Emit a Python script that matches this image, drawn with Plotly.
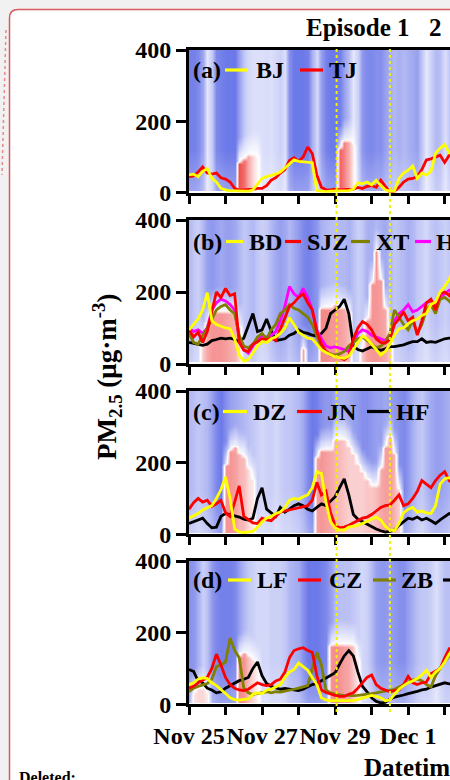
import numpy as np
import plotly.graph_objects as go
from datetime import datetime, timedelta

# ---------------- time base (3-hourly samples) ----------------
START = datetime(2015, 11, 25)
HOURS = list(range(0, 175, 3))
TIMES = [START + timedelta(hours=h) for h in HOURS]
HEIGHTS = list(range(10, 401, 10))
X_END = START + timedelta(hours=171.5)

DAY_TICKS = [START + timedelta(days=d) for d in range(8)]
DAY_TEXT = ["Nov 25", "", "Nov 27", "", "Nov 29", "", "Dec 1", ""]
EPISODE_BOUNDS = [START + timedelta(hours=97), START + timedelta(hours=132)]

# ---------------- PM2.5 series (ug/m3) ----------------
# panel (a)
BJ = [50, 52, 45, 60, 68, 40, 30, 12, 8, 5,
      5, 4, 5, 4, 8, 25, 40, 45, 48, 52,
      58, 70, 82, 92, 88, 86, 85, 84, 6, 4,
      3, 4, 5, 4, 5, 6, 10, 28, 25, 30,
      22, 35, 20, 8, 4, 5, 40, 55, 63, 75,
      40, 55, 50, 60, 110, 125, 135, 112, 120]
TJ = [45, 47, 58, 72, 55, 52, 55, 42, 38, 30,
      12, 7, 8, 8, 10, 12, 12, 20, 35, 42,
      55, 65, 90, 98, 88, 100, 128, 110, 50, 15,
      8, 8, 10, 8, 8, 10, 10, 15, 12, 18,
      20, 15, 35, 18, 2, 4, 15, 30, 38, 40,
      45, 65, 92, 95, 100, 105, 85, 105, 110]
# panel (b)
BD = [95, 110, 125, 150, 198, 120, 110, 105, 100, 98,
      70, 25, 8, 12, 30, 50, 62, 60, 70, 75,
      85, 100, 128, 110, 88, 80, 72, 70, 55, 40,
      32, 25, 20, 18, 16, 22, 40, 60, 78, 70,
      55, 40, 25, 35, 55, 80, 98, 100, 112, 120,
      125, 135, 140, 165, 172, 200, 215, 235, 270]
SJZ = [95, 75, 88, 60, 90, 150, 200, 185, 210, 190,
       195, 60, 38, 35, 55, 62, 70, 68, 72, 65,
       95, 125, 160, 170, 185, 195, 170, 150, 90, 55,
       35, 25, 22, 18, 12, 22, 70, 100, 118, 110,
       95, 70, 60, 58, 68, 110, 125, 145, 120, 130,
       80, 120, 170, 180, 150, 195, 200, 190, 210]
XT = [85, 60, 55, 80, 100, 125, 150, 160, 165, 150,
      140, 80, 50, 45, 55, 75, 85, 70, 95, 110,
      140, 150, 165, 155, 150, 140, 130, 110, 80, 45,
      35, 28, 25, 28, 35, 50, 60, 70, 75, 65,
      55, 45, 50, 60, 85, 150, 130, 110, 95, 120,
      85, 110, 150, 165, 140, 180, 185, 175, 160]
HS = [100, 90, 95, 85, 100, 150, 170, 180, 175, 165,
      150, 70, 40, 30, 50, 70, 78, 75, 80, 90,
      120, 160, 215, 195, 185, 210, 185, 150, 95, 70,
      50, 45, 48, 45, 40, 35, 60, 85, 95, 90,
      80, 75, 70, 65, 80, 120, 140, 150, 165, 145,
      150, 160, 170, 175, 165, 185, 195, 205, 210]
HD = [60, 58, 55, 52, 55, 65, 68, 72, 70, 72,
      68, 62, 72, 105, 140, 90, 95, 125, 92, 65,
      68, 70, 80, 85, 95, 88, 85, 80, 78, 85,
      99, 140, 150, 160, 180, 140, 50, 40, 36, 42,
      48, 42, 38, 42, 48, 48, 50, 53, 58, 62,
      62, 70, 60, 62, 60, 65, 70, 72, 72]
# panel (c)
DZ = [45, 52, 58, 68, 75, 80, 100, 125, 160, 100,
      15, 7, 5, 6, 8, 20, 35, 45, 50, 58,
      62, 75, 95, 100, 98, 105, 110, 130, 175, 170,
      90, 35, 18, 12, 12, 20, 22, 25, 30, 35,
      42, 48, 40, 22, 12, 10, 30, 60, 70, 75,
      62, 65, 60, 58, 80, 140, 155, 158, 150]
JN = [70, 88, 100, 90, 95, 78, 85, 95, 60, 50,
      90, 135, 50, 40, 32, 30, 45, 40, 38, 50,
      62, 65, 68, 70, 75, 78, 80, 95, 145, 110,
      120, 60, 25, 18, 20, 25, 32, 38, 45, 48,
      55, 65, 75, 80, 82, 95, 110, 80, 85, 100,
      120, 150, 140, 130, 150, 165, 175, 150, 140]
HF = [30, 35, 38, 45, 30, 18, 20, 50, 58, 55,
      52, 48, 42, 40, 45, 100, 130, 70, 60, 50,
      75, 62, 70, 80, 85, 80, 70, 65, 75, 85,
      80, 92, 105, 130, 155, 110, 55, 42, 35, 28,
      20, 15, 10, 6, 8, 12, 25, 35, 45, 42,
      48, 40, 45, 38, 30, 40, 50, 58, 55]
# panel (d)
LF = [55, 60, 70, 74, 72, 60, 52, 42, 30, 18,
      13, 12, 13, 15, 28, 32, 30, 40, 42, 48,
      55, 75, 90, 97, 115, 105, 95, 75, 55, 18,
      12, 10, 10, 10, 11, 12, 10, 14, 18, 22,
      25, 22, 18, 10, 12, 28, 42, 52, 60, 65,
      72, 82, 95, 75, 90, 100, 118, 140, 155]
CZ = [45, 50, 60, 68, 75, 100, 140, 110, 75, 55,
      45, 40, 38, 42, 52, 60, 55, 52, 55, 65,
      70, 90, 130, 150, 155, 158, 150, 145, 80, 40,
      33, 28, 25, 22, 22, 28, 32, 45, 60, 75,
      82, 55, 45, 40, 35, 38, 40, 55, 78, 60,
      55, 60, 62, 85, 92, 100, 130, 155, 150]
ZB = [35, 45, 50, 55, 58, 70, 105, 110, 118, 185,
      150, 130, 45, 32, 28, 30, 32, 35, 32, 35,
      34, 36, 40, 42, 45, 48, 52, 100, 145, 110,
      40, 32, 28, 26, 25, 24, 24, 25, 26, 28,
      30, 32, 34, 36, 38, 42, 48, 55, 62, 68,
      70, 66, 55, 48, 80, 100, 120, 135, 150]
BZ = [97, 92, 65, 60, 45, 40, 32, 35, 45, 52,
      60, 66, 70, 75, 100, 118, 80, 58, 50, 45,
      42, 44, 42, 40, 38, 42, 48, 55, 58, 65,
      72, 80, 88, 112, 135, 150, 135, 90, 50, 35,
      18, 8, 4, 5, 15, 20, 22, 26, 30, 32,
      36, 40, 42, 48, 52, 58, 60, 57, 58]

# ---------------- background field per panel ----------------
# tone: strength of the blue (stable) shading; red_top / red_amp: height and
# strength of the red (unstable) layer near the ground
TONE_A = [0.8, 0.8, 0.75, 0.55, 0.15, 0.35, 0.75, 0.8, 0.85, 0.85,
          0.85, 0.6, 0.35, 0.25, 0.2, 0.2, 0.2, 0.22, 0.2, 0.25,
          0.3, 0.2, 0.7, 0.85, 0.85, 0.85, 0.8, 0.5, 0.25, 0.6,
          0.8, 0.85, 0.85, 0.8, 0.6, 0.4, 0.15, 0.3, 0.65, 0.75,
          0.75, 0.7, 0.7, 0.6, 0.5, 0.45, 0.5, 0.45, 0.5, 0.55,
          0.6, 0.35, 0.15, 0.3, 0.45, 0.4, 0.2, 0.35, 0.4]
RTOP_A = [0, 0, 0, 0, 0, 0, 0, 0, 0, 0,
          0, 85, 95, 100, 105, 100, 0, 0, 0, 0,
          0, 0, 0, 0, 0, 0, 0, 0, 0, 0,
          0, 0, 0, 120, 140, 140, 130, 0, 0, 0,
          0, 0, 0, 0, 0, 0, 0, 0, 0, 0,
          0, 0, 0, 0, 0, 0, 0, 0, 0]
RAMP_A = [0, 0, 0, 0, 0, 0, 0, 0, 0, 0,
          0, 0.9, 0.75, 0.45, 0.2, 0.05, 0, 0, 0, 0,
          0, 0, 0, 0, 0, 0, 0, 0, 0, 0,
          0, 0, 0, 0.8, 0.65, 0.4, 0.1, 0, 0, 0,
          0, 0, 0, 0, 0, 0, 0, 0, 0, 0,
          0, 0, 0, 0, 0, 0, 0, 0, 0]

TONE_B = [0.45, 0.35, 0.3, 0.45, 0.6, 0.65, 0.6, 0.55, 0.6, 0.6,
          0.55, 0.45, 0.35, 0.4, 0.45, 0.35, 0.3, 0.35, 0.45, 0.55,
          0.6, 0.55, 0.45, 0.55, 0.65, 0.75, 0.8, 0.75, 0.65, 0.5,
          0.45, 0.4, 0.4, 0.45, 0.45, 0.5, 0.4, 0.3, 0.35, 0.5,
          0.5, 0.45, 0.5, 0.55, 0.45, 0.35, 0.4, 0.45, 0.5, 0.45,
          0.35, 0.3, 0.25, 0.35, 0.4, 0.35, 0.3, 0.35, 0.35]
RTOP_B = [0, 0, 0, 60, 110, 140, 145, 145, 145, 140,
          140, 100, 0, 0, 0, 0, 0, 0, 0, 0,
          0, 0, 0, 0, 0, 40, 0, 0, 0, 150,
          155, 155, 160, 155, 150, 140, 0, 0, 40, 120,
          220, 310, 230, 150, 60, 0, 0, 0, 0, 0,
          0, 0, 0, 0, 0, 0, 0, 0, 0]
RAMP_B = [0, 0, 0, 0.3, 0.45, 0.55, 0.55, 0.55, 0.5, 0.45,
          0.4, 0.2, 0, 0, 0, 0, 0, 0, 0, 0,
          0, 0, 0, 0, 0, 0.45, 0, 0, 0, 0.6,
          0.6, 0.55, 0.55, 0.5, 0.45, 0.35, 0, 0, 0.3, 0.5,
          0.55, 0.55, 0.5, 0.45, 0.3, 0, 0, 0, 0, 0,
          0, 0, 0, 0, 0, 0, 0, 0, 0]

TONE_C = [0.45, 0.4, 0.35, 0.4, 0.45, 0.6, 0.75, 0.85, 0.7, 0.6,
          0.55, 0.5, 0.45, 0.4, 0.35, 0.3, 0.25, 0.3, 0.3, 0.25,
          0.3, 0.35, 0.35, 0.4, 0.45, 0.55, 0.75, 0.85, 0.8, 0.7,
          0.65, 0.65, 0.55, 0.5, 0.5, 0.55, 0.6, 0.65, 0.7, 0.7,
          0.65, 0.6, 0.6, 0.55, 0.6, 0.65, 0.7, 0.75, 0.65, 0.5,
          0.4, 0.35, 0.45, 0.55, 0.6, 0.6, 0.55, 0.5, 0.5]
RTOP_C = [0, 0, 0, 0, 0, 0, 0, 0, 190, 230,
          240, 225, 215, 180, 150, 0, 0, 0, 0, 0,
          0, 0, 0, 0, 0, 0, 0, 0, 210, 230,
          235, 235, 265, 265, 262, 245, 220, 195, 170, 150,
          135, 135, 185, 240, 270, 225, 125, 0, 0, 0,
          0, 0, 0, 0, 0, 0, 0, 0, 0]
RAMP_C = [0, 0, 0, 0, 0, 0, 0, 0, 0.55, 0.55,
          0.5, 0.4, 0.35, 0.2, 0.1, 0, 0, 0, 0, 0,
          0, 0, 0, 0, 0, 0, 0, 0, 0.5, 0.55,
          0.5, 0.45, 0.4, 0.35, 0.3, 0.25, 0.25, 0.25, 0.25, 0.3,
          0.3, 0.35, 0.45, 0.5, 0.5, 0.4, 0.25, 0, 0, 0,
          0, 0, 0, 0, 0, 0, 0, 0, 0]

TONE_D = [0.7, 0.65, 0.5, 0.3, 0.4, 0.65, 0.75, 0.8, 0.8, 0.8,
          0.75, 0.6, 0.45, 0.35, 0.3, 0.25, 0.25, 0.25, 0.3, 0.3,
          0.3, 0.35, 0.45, 0.5, 0.55, 0.7, 0.85, 0.85, 0.85, 0.8,
          0.75, 0.6, 0.45, 0.4, 0.4, 0.4, 0.35, 0.3, 0.25, 0.3,
          0.45, 0.6, 0.65, 0.65, 0.6, 0.65, 0.7, 0.7, 0.6, 0.5,
          0.4, 0.35, 0.35, 0.3, 0.2, 0.3, 0.4, 0.4, 0.4]
RTOP_D = [0, 30, 40, 40, 30, 0, 0, 0, 0, 0,
          0, 130, 140, 135, 120, 100, 0, 0, 0, 0,
          0, 0, 0, 0, 0, 0, 0, 0, 0, 0,
          0, 160, 165, 168, 168, 165, 160, 120, 0, 0,
          0, 0, 0, 0, 0, 0, 0, 0, 0, 0,
          0, 0, 0, 0, 0, 0, 0, 0, 0]
RAMP_D = [0, 0.15, 0.2, 0.2, 0.1, 0, 0, 0, 0, 0,
          0, 0.6, 0.55, 0.35, 0.2, 0.08, 0, 0, 0, 0,
          0, 0, 0, 0, 0, 0, 0, 0, 0, 0,
          0, 0.55, 0.6, 0.55, 0.5, 0.45, 0.3, 0.1, 0, 0,
          0, 0, 0, 0, 0, 0, 0, 0, 0, 0,
          0, 0, 0, 0, 0, 0, 0, 0, 0]


def field(tone, red_top, red_amp):
    tone = np.asarray(tone, float)[None, :]
    top = np.asarray(red_top, float)[None, :]
    amp = np.asarray(red_amp, float)[None, :]
    h = np.asarray(HEIGHTS, float)[:, None]
    plain = -tone * (0.7 + 0.3 * np.minimum(1.0, h / 120.0))
    above = h - top
    capped = -tone * np.clip(above / 70.0, 0.0, 1.0)
    z = np.where(top > 0, np.where(above <= 0, amp, capped), plain)
    return z.tolist()


COLORSCALE = [[0.0, "rgb(82,97,228)"], [0.5, "rgb(255,255,255)"], [1.0, "rgb(236,62,62)"]]

W, H = 450, 780


def px(x):
    return x / W


def py(y):
    return 1 - y / H


PANELS = [
    dict(rows=(50, 192.7), bg=(TONE_A, RTOP_A, RAMP_A), tag="(a)",
         series=[("BJ", BJ, "#ffff00"), ("TJ", TJ, "#ff0000")],
         legend=[(225, 248, 255), (300, 323, 328)], ly=70),
    dict(rows=(220, 364), bg=(TONE_B, RTOP_B, RAMP_B), tag="(b)",
         series=[("BD", BD, "#ffff00"), ("SJZ", SJZ, "#ff0000"), ("XT", XT, "#808000"),
                 ("HS", HS, "#ff00ff"), ("HD", HD, "#000000")],
         legend=[(226, 243, 248), (285, 301, 306), (351, 370, 375), (415, 431, 435)],
         ly=241.5),
    dict(rows=(391, 534.3), bg=(TONE_C, RTOP_C, RAMP_C), tag="(c)",
         series=[("DZ", DZ, "#ffff00"), ("JN", JN, "#ff0000"), ("HF", HF, "#000000")],
         legend=[(223, 247, 252), (297, 322, 326), (367, 390, 395)], ly=411.5),
    dict(rows=(561, 704.3), bg=(TONE_D, RTOP_D, RAMP_D), tag="(d)",
         series=[("LF", LF, "#ffff00"), ("CZ", CZ, "#ff0000"), ("ZB", ZB, "#808000"),
                 ("BZ", BZ, "#000000")],
         legend=[(228, 251, 256), (298, 321, 328), (373, 396, 400), (443, 466, 472)],
         ly=580),
]

SERIF = "Liberation Serif"
BOLD = dict(family=SERIF, size=24, color="black", weight="bold")
TICKFONT = dict(family=SERIF, size=24, color="black", weight="bold")

fig = go.Figure()
layout = dict(template="none", width=W, height=H,
              margin=dict(l=0, r=0, t=0, b=0, autoexpand=False),
              paper_bgcolor="#f1f1f1", plot_bgcolor="white", showlegend=False)
annotations = []
shapes = []

for i, p in enumerate(PANELS):
    n = "" if i == 0 else str(i + 1)
    xa, ya = "x" + n, "y" + n
    top_px, bot_px = p["rows"]
    fig.add_trace(go.Heatmap(x=TIMES, y=HEIGHTS, z=field(*p["bg"]), zmin=-1, zmax=1,
                             colorscale=COLORSCALE, zsmooth="best", showscale=False,
                             hoverinfo="skip", xaxis=xa, yaxis=ya))
    # draw later-listed stations first so the first legend entry sits on top
    for name, vals, col in reversed(p["series"]):
        fig.add_trace(go.Scatter(x=TIMES, y=vals, mode="lines", name=name,
                                 line=dict(color=col, width=2.8), xaxis=xa, yaxis=ya))
    layout["xaxis" + n] = dict(domain=[px(189), 1], range=[START, X_END], type="date",
                               anchor=ya, automargin=False, showline=True, linewidth=3,
                               linecolor="black", mirror=True, ticks="outside", ticklen=8,
                               tickwidth=2.5, tickcolor="black", tickvals=DAY_TICKS,
                               ticktext=DAY_TEXT, tickangle=0, showticklabels=(i == 3),
                               showgrid=False, zeroline=False, tickfont=TICKFONT)
    layout["yaxis" + n] = dict(domain=[py(bot_px), py(top_px)], range=[0, 400],
                               tickvals=[0, 200, 400], anchor=xa, automargin=False,
                               showline=True, linewidth=3, linecolor="black",
                               ticks="outside", ticklen=10, tickwidth=2.5, tickcolor="black",
                               showgrid=False, zeroline=False, tickfont=TICKFONT)
    # panel tag and legend keys
    annotations.append(dict(text=p["tag"], x=px(191), y=py(p["ly"]), xanchor="left",
                            yanchor="middle", font=BOLD))
    for (x0, x1, xt), (name, vals, col) in zip(p["legend"], p["series"]):
        shapes.append(dict(type="line", xref="paper", yref="paper", x0=px(x0), x1=px(x1),
                           y0=py(p["ly"]), y1=py(p["ly"]), line=dict(color=col, width=3.2)))
        annotations.append(dict(text=name, x=px(xt - 1), y=py(p["ly"]), xanchor="left",
                                yanchor="middle", font=BOLD))

# episode boundaries
for t in EPISODE_BOUNDS:
    shapes.append(dict(type="line", xref="x4", yref="paper", x0=t, x1=t,
                       y0=py(712), y1=py(48), line=dict(color="#f2f200", width=2, dash="dot")))

# page frame
frame = (f"M {px(9.5)},{py(800)} L {px(9.5)},{py(18)} Q {px(9.5)},{py(9.5)} {px(18)},{py(9.5)} "
         f"L {px(470)},{py(9.5)} L {px(470)},{py(800)} Z")
shapes.insert(0, dict(type="path", path=frame, xref="paper", yref="paper", layer="below",
                      fillcolor="white", line=dict(color="#d85a5a", width=1.5)))
shapes.append(dict(type="line", xref="paper", yref="paper", x0=px(6), x1=px(2),
                   y0=py(30), y1=py(175), line=dict(color="#e88888", width=1.5, dash="dot")))

TITLE_FONT = dict(family=SERIF, size=25, color="black", weight="bold")
annotations += [
    dict(text="Episode 1", x=px(304), y=py(28), xanchor="left", yanchor="middle", font=TITLE_FONT),
    dict(text="2", x=px(427), y=py(28), xanchor="left", yanchor="middle", font=TITLE_FONT),
    dict(text="PM<sub>2.5</sub> (μg·m<sup>-3</sup>)", x=px(107), y=py(377), textangle=-90,
         xanchor="center", yanchor="middle",
         font=dict(family=SERIF, size=27, color="black", weight="bold")),
    dict(text="Datetime", x=px(362), y=py(767), xanchor="left", yanchor="middle",
         font=TITLE_FONT),
    dict(text="Deleted:", x=px(17), y=py(767), xanchor="left", yanchor="top",
         font=dict(family=SERIF, size=16, color="black", weight="bold")),
]
for a in annotations:
    a.setdefault("xref", "paper")
    a.setdefault("yref", "paper")
    a.setdefault("showarrow", False)

layout["annotations"] = annotations
layout["shapes"] = shapes
fig.update_layout(**layout)
fig.write_html("out.html",
               post_script="document.body.style.margin='0';document.body.style.overflow='hidden';")
